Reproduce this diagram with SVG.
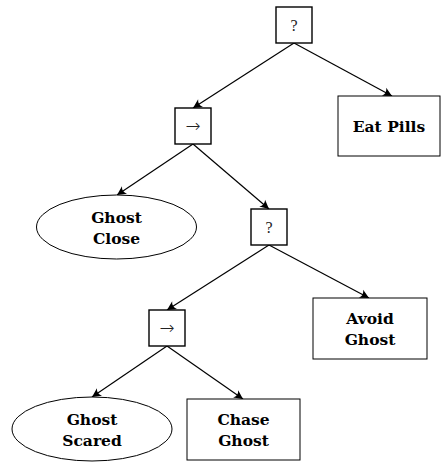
<svg xmlns="http://www.w3.org/2000/svg" width="441" height="462" viewBox="0 0 441 462">
<style>
.ctl{fill:#fff;stroke:#000;stroke-width:1.4}
.act{fill:#fff;stroke:#000;stroke-width:1}
.lbl{font-family:"DejaVu Serif","Liberation Serif",serif;font-weight:bold;font-size:15.5px;text-anchor:middle;fill:#000}
.sym{font-family:"Liberation Serif","DejaVu Serif",serif;font-size:16px;text-anchor:middle;fill:#222}
.arr{font-family:"DejaVu Sans","Liberation Sans",sans-serif;font-weight:200;font-size:18px;text-anchor:middle;fill:#222}
.edge{stroke:#000;stroke-width:1.2;fill:none;marker-end:url(#ah)}
</style>
<defs>
<marker id="ah" markerUnits="userSpaceOnUse" markerWidth="12" markerHeight="10" viewBox="-10 -5 12 10" refX="0" refY="0" orient="auto">
<path d="M0,0 L-9,-4.5 Q-5.5,0 -9,4.5 Z" fill="#000"/>
</marker>
</defs>
<g id="connectors">
<line class="edge" x1="294" y1="43" x2="193" y2="108"/>
<line class="edge" x1="294" y1="43" x2="392" y2="96"/>
<line class="edge" x1="193" y1="144" x2="117" y2="195"/>
<line class="edge" x1="193" y1="144" x2="269" y2="209"/>
<line class="edge" x1="269" y1="245" x2="167" y2="310"/>
<line class="edge" x1="269" y1="245" x2="369" y2="298"/>
<line class="edge" x1="167" y1="346" x2="92" y2="397"/>
<line class="edge" x1="167" y1="346" x2="243" y2="399"/>
</g>
<g id="root">
<rect class="ctl" x="276" y="7" width="36" height="36"/>
<text class="sym" x="294" y="31">?</text>
</g>
<g id="eat-pills">
<rect class="act" x="338" y="96" width="102" height="60"/>
<text class="lbl" x="389" y="132">Eat Pills</text>
</g>
<g id="seq1">
<rect class="ctl" x="175" y="108" width="36" height="36"/>
<text class="arr" x="193" y="132">→</text>
</g>
<g id="ghost-close">
<ellipse class="act" cx="116.5" cy="227" rx="80" ry="32"/>
<text class="lbl" x="116.5" y="223">Ghost</text>
<text class="lbl" x="116.5" y="244">Close</text>
</g>
<g id="sel2">
<rect class="ctl" x="251" y="209" width="36" height="36"/>
<text class="sym" x="269" y="233">?</text>
</g>
<g id="avoid-ghost">
<rect class="act" x="313" y="298" width="114" height="61"/>
<text class="lbl" x="370" y="324">Avoid</text>
<text class="lbl" x="370" y="345">Ghost</text>
</g>
<g id="seq2">
<rect class="ctl" x="149" y="310" width="36" height="36"/>
<text class="arr" x="167" y="334">→</text>
</g>
<g id="ghost-scared">
<ellipse class="act" cx="92" cy="429" rx="80" ry="32"/>
<text class="lbl" x="92" y="425">Ghost</text>
<text class="lbl" x="92" y="446">Scared</text>
</g>
<g id="chase-ghost">
<rect class="act" x="187" y="399" width="113" height="61"/>
<text class="lbl" x="243.5" y="425">Chase</text>
<text class="lbl" x="243.5" y="446">Ghost</text>
</g>
</svg>
